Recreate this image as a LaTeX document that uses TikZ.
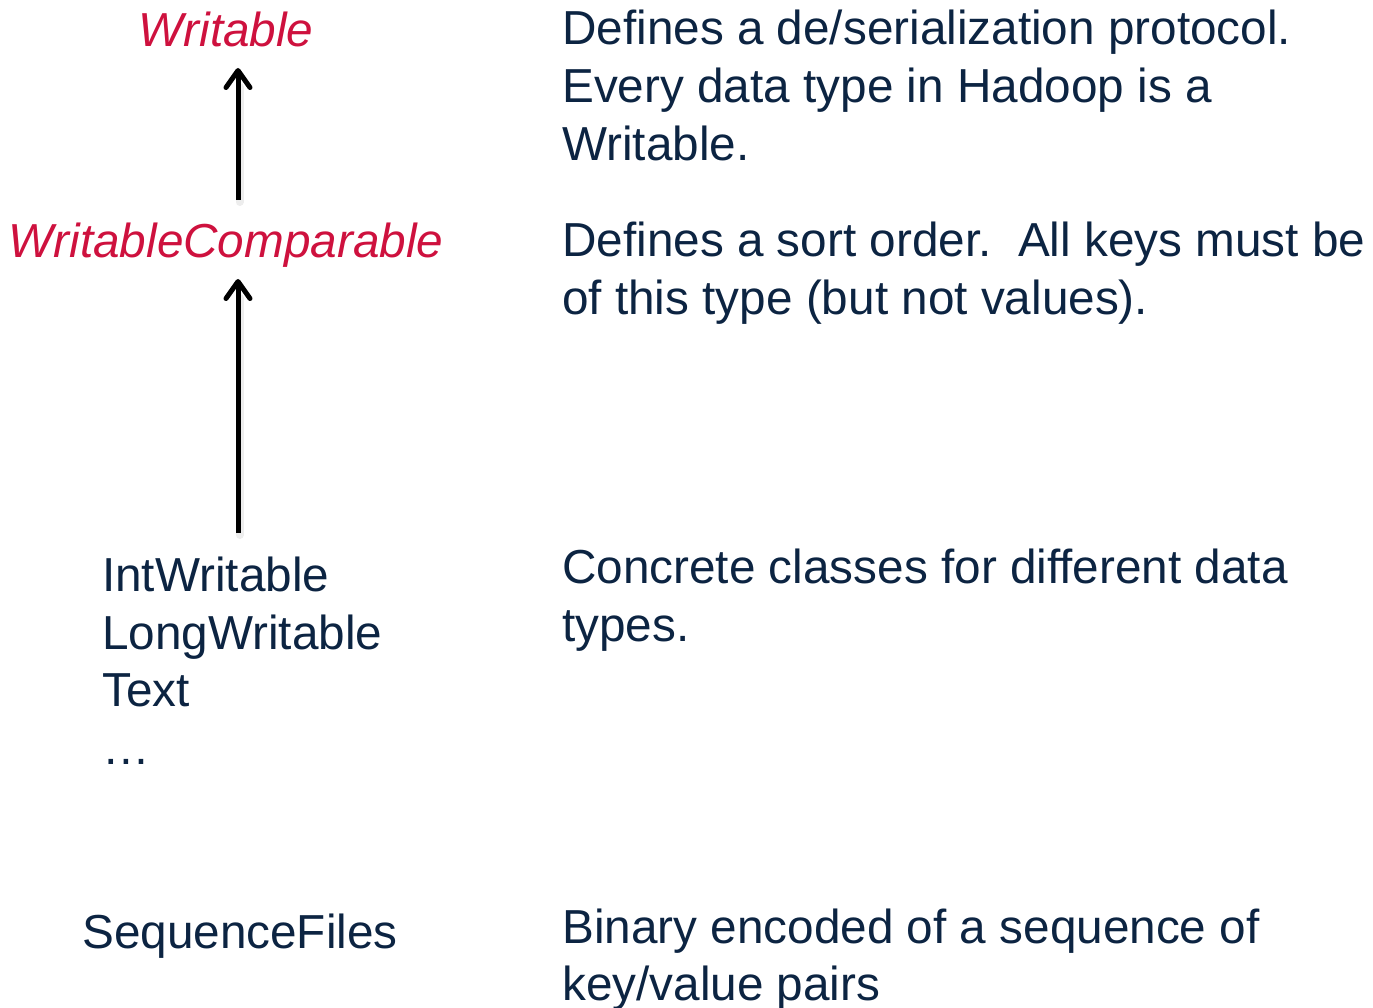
\documentclass[tikz,border=0pt]{standalone}
\usepackage{fontspec}
\setmainfont{Liberation Sans}
\usetikzlibrary{arrows.meta}
\definecolor{navy}{RGB}{12,36,66}
\definecolor{crimson}{RGB}{206,17,62}
\tikzset{
  txt/.style={inner sep=0pt, text=navy, font=\fontsize{47.7}{58}\selectfont},
  cls/.style={inner sep=0pt, text=crimson, font=\fontsize{47.7}{58}\selectfont\itshape},
  desc/.style={txt, anchor=base west},
  inherit/.style={draw=black, line width=5pt, line cap=butt, line join=miter,
    -{Straight Barb[length=17pt, width=24pt, line join=round, line cap=round]}},
  halo/.style={draw=black!40, line width=8pt, opacity=0.18, line cap=round}
}
\begin{document}
\begin{tikzpicture}[x=1pt, y=-1pt]
  \useasboundingbox (0,0) rectangle (1373,1008);

  % class hierarchy (left column)
  \node[cls, anchor=base] (w)  at (226,47)  {Writable};
  \node[cls, anchor=base] (wc) at (226,258) {WritableComparable};
  \node[txt, anchor=base west] (iw) at (102,591) {IntWritable};
  \node[txt, anchor=base west] (lw) at (102,649) {LongWritable};
  \node[txt, anchor=base west] (tx) at (102,706) {Text};
  \node[txt, anchor=base west] (etc) at (102,764) {\ldots};
  \node[txt, anchor=base west] (sf) at (82,948) {SequenceFiles};

  % soft shadows under the arrows
  \draw[halo] ([shift={(13.5,-56)}]wc.base) -- ([shift={(13.5,40)}]w.base);
  \draw[halo] ([shift={(137.5,-56)}]iw.base west) -- ([shift={(13.5,40)}]wc.base);

  % inheritance arrows
  \draw[inherit] ([shift={(12,-58)}]wc.base) -- ([shift={(12,21)}]w.base);
  \draw[inherit] ([shift={(136,-58)}]iw.base west) -- ([shift={(12,21)}]wc.base);

  % descriptions (right column)
  \node[desc] (d1a) at (562,45)  {Defines a de/serialization protocol.};
  \node[desc] (d1b) at (562,103) {Every data type in Hadoop is a};
  \node[desc] (d1c) at (562,161) {Writable.};

  \node[desc] (d2a) at (562,257) {Defines a sort order.\ \ All keys must be};
  \node[desc] (d2b) at (562,315) {of this type (but not values).};

  \node[desc] (d3a) at (562,583) {Concrete classes for different data};
  \node[desc] (d3b) at (562,641) {types.};

  \node[desc] (d4a) at (562,943) {Binary encoded of a sequence of};
  \node[desc] (d4b) at (562,1000) {key/value pairs};
\end{tikzpicture}
\end{document}
